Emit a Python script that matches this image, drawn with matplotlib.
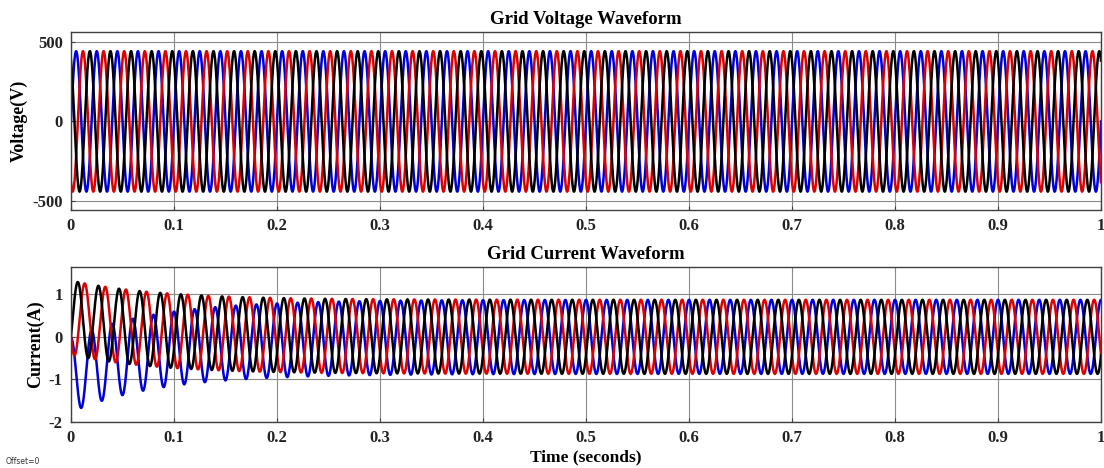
import numpy as np
import matplotlib
matplotlib.use("Agg")
import matplotlib.pyplot as plt

# time base
t_end = 1.0
n_samples = 20001
f_grid = 50  # Hz

# phase colours, in drawing order
phase_colors = ['#0000dd', '#dd0000', '#000000']  # blue, red, black

# grid voltage: amplitude and phase shift (deg) per phase
v_amp = 440
v_shift = [0, -120, 120]

# grid current: steady amplitude, phase shift (deg, cosine ref), DC start and decay
i_amp = 0.87
i_shift = [0, -240, -120]
i_dc0 = [-0.9, 0.45, 0.45]
i_tau = 0.085

v_ticks = [-500, 0, 500]
i_ticks = [-2, -1, 0, 1]
x_ticks = [0, 0.1, 0.2, 0.3, 0.4, 0.5, 0.6, 0.7, 0.8, 0.9, 1]
x_ticklabels = ['0', '0.1', '0.2', '0.3', '0.4', '0.5', '0.6', '0.7', '0.8', '0.9', '1']

plt.rcParams['font.family'] = ['Liberation Serif', 'DejaVu Serif']
plt.rcParams['font.weight'] = 'bold'
plt.rcParams['axes.unicode_minus'] = False

t = np.linspace(0, t_end, n_samples)
w = 2 * np.pi * f_grid

fig = plt.figure(figsize=(11.04, 4.68), dpi=100)
ax_v = fig.add_axes([0.0643, 0.5513, 0.933, 0.3803])
ax_i = fig.add_axes([0.0643, 0.0983, 0.933, 0.3312])

for k in range(3):
    v = v_amp * np.sin(w * t + np.deg2rad(v_shift[k]))
    ax_v.plot(t, v, color=phase_colors[k], lw=1.8)
    i = i_amp * np.cos(w * t + np.deg2rad(i_shift[k])) + i_dc0[k] * np.exp(-t / i_tau)
    ax_i.plot(t, i, color=phase_colors[k], lw=1.8)


def style_axis(ax, yticks, ylim):
    ax.set_xlim(0, t_end)
    ax.set_ylim(*ylim)
    ax.set_xticks(x_ticks)
    ax.set_xticklabels(x_ticklabels)
    ax.set_yticks(yticks)
    ax.grid(True, color='#8a8a8a', lw=0.8)
    ax.set_axisbelow(True)
    ax.tick_params(direction='in', length=3, labelsize=12, pad=6, color='#404040')
    for lbl in ax.get_xticklabels() + ax.get_yticklabels():
        lbl.set_fontweight('bold')
        lbl.set_color('#222222')
    for s in ax.spines.values():
        s.set_color('#404040')
        s.set_linewidth(1.0)


style_axis(ax_v, v_ticks, (-555, 560))
style_axis(ax_i, i_ticks, (-2, 1.64))

ax_v.set_title('Grid Voltage Waveform', fontsize=13.5, fontweight='bold', pad=6)
ax_i.set_title('Grid Current Waveform', fontsize=13.5, fontweight='bold', pad=6)
ax_v.set_ylabel('Voltage(V)', fontsize=13, fontweight='bold', labelpad=3)
ax_i.set_ylabel('Current(A)', fontsize=13, fontweight='bold', labelpad=3)
ax_i.set_xlabel('Time (seconds)', fontsize=12.5, fontweight='bold', labelpad=2)

fig.text(0.005, 0.008, 'Offset=0', fontsize=5.5, family='DejaVu Sans',
         fontweight='normal', color='#333333')

fig.savefig('out.png', dpi=100)
